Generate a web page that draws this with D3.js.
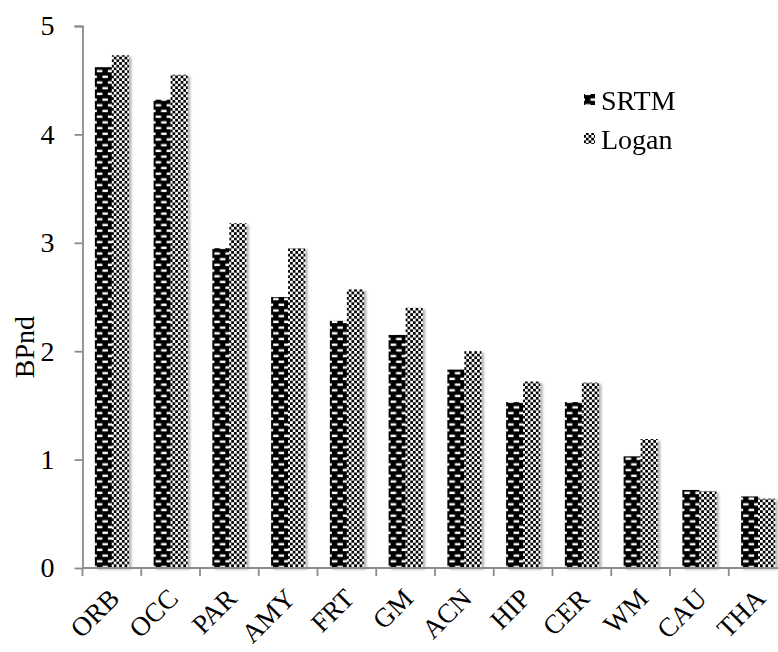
<!DOCTYPE html>
<html>
<head>
<meta charset="utf-8">
<script src="https://cdn.jsdelivr.net/npm/d3@7"></script>
<style>
html,body{margin:0;padding:0;background:#fff;}
svg{display:block;}
svg text{font-family:"Liberation Serif","Times New Roman","DejaVu Serif",serif !important;fill:#000;}
</style>
</head>
<body>
<svg id="chart" width="778" height="652"></svg>
<script>
const categories = ["ORB","OCC","PAR","AMY","FRT","GM","ACN","HIP","CER","WM","CAU","THA"];
const srtm  = [4.62,4.32,2.95,2.50,2.28,2.15,1.83,1.53,1.53,1.03,0.72,0.66];
const logan = [4.73,4.55,3.18,2.95,2.57,2.40,2.00,1.72,1.71,1.19,0.71,0.64];
const seriesNames = ["SRTM","Logan"];
const yTicks = [0,1,2,3,4,5];

const FONT = "'Liberation Serif','Times New Roman','DejaVu Serif',serif";
const FS = "28px";

const svg = d3.select("#chart");
const defs = svg.append("defs");

// SRTM pattern: black with staggered white dashes
const p1 = defs.append("pattern").attr("id","patSRTM").attr("patternUnits","userSpaceOnUse")
  .attr("width",11).attr("height",11.4);
p1.append("rect").attr("width",11).attr("height",11.4).attr("fill","#000");
p1.append("rect").attr("x",2).attr("y",1.5).attr("width",5.5).attr("height",2.4).attr("fill","#fff");
p1.append("rect").attr("x",7.5).attr("y",7.2).attr("width",3.5).attr("height",2.4).attr("fill","#fff");
p1.append("rect").attr("x",0).attr("y",7.2).attr("width",2).attr("height",2.4).attr("fill","#fff");

// Logan pattern: small checkerboard
const s = 2.7;
const p2 = defs.append("pattern").attr("id","patLogan").attr("patternUnits","userSpaceOnUse")
  .attr("width",2*s).attr("height",2*s);
p2.append("rect").attr("width",2*s).attr("height",2*s).attr("fill","#fff");
p2.append("rect").attr("x",0).attr("y",0).attr("width",s).attr("height",s).attr("fill","#000");
p2.append("rect").attr("x",s).attr("y",s).attr("width",s).attr("height",s).attr("fill","#000");

const f = defs.append("filter").attr("id","shadow").attr("x","-20%").attr("y","-5%").attr("width","160%").attr("height","120%");
f.append("feDropShadow").attr("dx",2.5).attr("dy",1.5).attr("stdDeviation",1.2)
  .attr("flood-color","#000").attr("flood-opacity",0.3);

const x = d3.scaleBand().domain(categories).range([82.5, 787.5]).paddingInner(0).paddingOuter(0);
const y = d3.scaleLinear().domain([0,5]).range([568, 26]);
const sub = d3.scaleBand().domain(seriesNames).range([0, 34]);
const offset = (x.bandwidth() - 34) / 2;

const fills = {SRTM:"url(#patSRTM)", Logan:"url(#patLogan)"};
const data = categories.map((c,i)=>({c, vals:[{s:"SRTM",v:srtm[i]},{s:"Logan",v:logan[i]}]}));

const g = svg.append("g").attr("filter","url(#shadow)");
g.selectAll("g.grp").data(data).join("g")
  .attr("transform", d=>`translate(${x(d.c)+offset},0)`)
  .selectAll("rect").data(d=>d.vals).join("rect")
  .attr("x", d=>sub(d.s))
  .attr("width", sub.bandwidth())
  .attr("y", d=>y(d.v))
  .attr("height", d=>y(0)-y(d.v))
  .attr("fill", d=>fills[d.s]);

// Y axis
const yAxis = svg.append("g").attr("transform","translate(82.5,0)")
  .call(d3.axisLeft(y).tickValues(yTicks).tickFormat(d3.format("d")).tickSize(8).tickPadding(20));
yAxis.attr("font-family", FONT).attr("font-size", FS);
yAxis.select(".domain").attr("stroke","#8c8c8c").attr("stroke-width",1.8).attr("d","M-8,26.5H0.5V568");
yAxis.selectAll(".tick line").attr("stroke","#8c8c8c").attr("stroke-width",1.8);
yAxis.selectAll(".tick text").attr("font-family",FONT).style("font-size",FS);

// X axis
const xAxis = svg.append("g").attr("transform","translate(0,568)");
xAxis.append("line").attr("x1",82.5).attr("x2",778).attr("y1",0).attr("y2",0)
  .attr("stroke","#8c8c8c").attr("stroke-width",1.8);
xAxis.selectAll("line.tk").data(categories).join("line").attr("class","tk")
  .attr("x1",d=>x(d)).attr("x2",d=>x(d)).attr("y1",0).attr("y2",8)
  .attr("stroke","#8c8c8c").attr("stroke-width",1.8);
xAxis.selectAll("text").data(categories).join("text")
  .attr("text-anchor","end")
  .attr("font-family",FONT)
  .attr("transform",d=>`translate(${x(d)+x.bandwidth()/2+9},${32}) rotate(-45)`)
  .style("font-size","27px")
  .text(d=>d);

// Y label
svg.append("text").attr("text-anchor","middle").attr("font-family",FONT)
  .attr("transform","translate(34,347) rotate(-90)")
  .style("font-size",FS).text("BPnd");

// Legend
const leg = svg.append("g");
const legY = [100, 139];
seriesNames.forEach((n,i)=>{
  leg.append("rect").attr("x",584).attr("y",legY[i]-6).attr("width",11).attr("height",11).attr("fill",fills[n]);
  leg.append("text").attr("x",601).attr("y",legY[i]+10).attr("font-family",FONT).style("font-size",FS).text(n);
});
</script>
</body>
</html>
